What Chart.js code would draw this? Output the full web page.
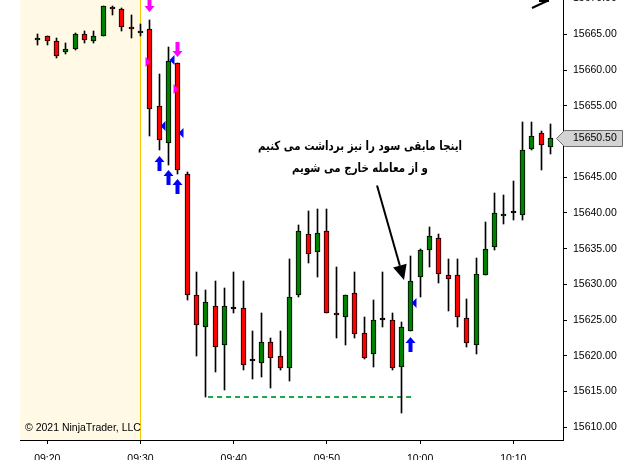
<!DOCTYPE html>
<html>
<head>
<meta charset="utf-8">
<script src="https://cdn.jsdelivr.net/npm/chart.js@4.4.1/dist/chart.umd.min.js"></script>
<style>
  html, body { margin: 0; padding: 0; background: #fff; }
  #wrap { width: 633px; height: 460px; }
</style>
</head>
<body>
<div id="wrap"><canvas id="chart" width="633" height="460"></canvas></div>
<script>
// ------------------------------
// 1-minute bars
// ------------------------------
const times = [
  "09:19", "09:20", "09:21", "09:22", "09:23", "09:24", "09:25", "09:26", "09:27", "09:28",
  "09:29", "09:30", "09:31", "09:32", "09:33", "09:34", "09:35", "09:36", "09:37", "09:38",
  "09:39", "09:40", "09:41", "09:42", "09:43", "09:44", "09:45", "09:46", "09:47", "09:48",
  "09:49", "09:50", "09:51", "09:52", "09:53", "09:54", "09:55", "09:56", "09:57", "09:58",
  "09:59", "10:00", "10:01", "10:02", "10:03", "10:04", "10:05", "10:06", "10:07", "10:08",
  "10:09", "10:10", "10:11", "10:12", "10:13", "10:14"
];
const opens = [
  15664.25, 15664.75, 15664.00, 15662.50, 15663.00, 15665.00, 15664.00, 15664.75, 15668.75, 15668.50,
  15666.00, 15665.25, 15665.75, 15655.00, 15649.75, 15661.00, 15645.50, 15628.50, 15624.00, 15627.00,
  15621.50, 15626.50, 15626.75, 15619.25, 15619.00, 15622.00, 15620.00, 15618.25, 15628.50, 15637.00,
  15634.50, 15637.50, 15626.00, 15625.50, 15628.75, 15623.25, 15620.25, 15625.00, 15625.00, 15618.50,
  15623.50, 15631.00, 15634.75, 15636.50, 15631.25, 15631.25, 15625.25, 15621.50, 15631.25, 15635.25,
  15639.50, 15640.00, 15639.75, 15649.00, 15651.25, 15649.25
];
const highs = [
  15665.00, 15664.75, 15664.50, 15663.75, 15665.25, 15665.50, 15665.50, 15669.00, 15669.00, 15668.75,
  15667.75, 15666.50, 15667.00, 15659.50, 15663.25, 15661.00, 15645.75, 15631.75, 15629.25, 15630.50,
  15629.50, 15631.75, 15630.50, 15623.50, 15626.00, 15622.50, 15623.50, 15633.50, 15638.25, 15640.25,
  15640.50, 15640.50, 15632.50, 15628.50, 15631.75, 15625.50, 15627.75, 15631.75, 15626.00, 15624.75,
  15634.00, 15635.00, 15638.00, 15637.00, 15633.50, 15633.50, 15628.00, 15633.75, 15638.75, 15642.75,
  15642.50, 15644.50, 15652.75, 15652.75, 15651.50, 15652.50
];
const lows = [
  15663.50, 15663.50, 15661.75, 15662.25, 15662.75, 15663.75, 15663.75, 15664.75, 15667.75, 15665.50,
  15664.50, 15664.75, 15650.75, 15648.75, 15646.75, 15645.50, 15627.75, 15620.00, 15614.25, 15617.75,
  15615.25, 15626.00, 15618.00, 15616.75, 15617.00, 15615.50, 15618.00, 15616.50, 15628.25, 15633.00,
  15631.00, 15626.00, 15622.50, 15621.50, 15622.50, 15619.50, 15618.50, 15624.00, 15618.00, 15612.00,
  15623.50, 15628.25, 15632.50, 15630.25, 15626.25, 15624.00, 15621.25, 15620.25, 15631.25, 15634.75,
  15638.50, 15639.00, 15639.00, 15648.75, 15646.00, 15648.25
];
const closes = [
  15664.50, 15664.00, 15662.00, 15663.00, 15665.00, 15664.25, 15664.75, 15669.00, 15668.50, 15666.00,
  15665.75, 15665.50, 15654.50, 15650.25, 15661.25, 15646.00, 15628.50, 15624.25, 15627.50, 15621.25,
  15627.00, 15626.50, 15618.75, 15619.25, 15622.00, 15619.75, 15618.25, 15628.25, 15637.50, 15634.25,
  15637.25, 15626.00, 15625.75, 15628.50, 15623.00, 15619.75, 15625.00, 15625.00, 15618.25, 15624.00,
  15630.50, 15634.75, 15636.75, 15631.50, 15630.75, 15625.50, 15621.75, 15631.50, 15635.00, 15640.00,
  15639.75, 15640.00, 15648.75, 15650.75, 15649.50, 15650.50
];

// axis ticks
const timeTicks = ["09:20", "09:30", "09:40", "09:50", "10:00", "10:10"];
const priceTicks = [15610, 15615, 15620, 15625, 15630, 15635, 15640, 15645, 15650, 15655, 15660, 15665, 15670];

// execution markers [time, price]
const sellArrows = [["09:31", 15668.1], ["09:34", 15661.8]];          // magenta down arrows (tip)
const sellFills = [["09:31", 15661.1], ["09:34", 15657.4]];           // magenta right triangles
const buyFills = [["09:32", 15652.1], ["09:33", 15661.4], ["09:34", 15651.2], ["09:59", 15627.4]];
const buyArrows = [["09:32", 15647.9], ["09:33", 15646.0], ["09:34", 15644.7], ["09:59", 15622.7]]; // blue up arrows (tip)

// drawings
const sessionStart = "09:30";
const stopLine = { from: 37.25, to: 59.15, price: 15614.25 };
const noteLines = ["اینجا مابقی سود را نیز برداشت می کنیم", "و از معامله خارج می شویم"];
const notePos = { x: 53.55, prices: [15649.2, 15646.25] };
const noteArrow = { x1: 55.38, y1: 15643.85, x2: 58.27, y2: 15630.6 };
const copyright = "© 2021 NinjaTrader, LLC";

// ------------------------------
// helpers
// ------------------------------
const toMin = t => { const [h, m] = t.split(":").map(Number); return (h - 9) * 60 + m; };
const fmtTime = v => {
  const h = 9 + Math.floor(v / 60), m = Math.round(v % 60);
  return String(h).padStart(2, "0") + ":" + String(m).padStart(2, "0");
};
const UP = "#008000", DOWN = "#FF0000";
const AXIS_FONT = { family: "'Liberation Sans', Arial, sans-serif", size: 10.5 };

const bodyColors = times.map((t, i) => closes[i] > opens[i] ? UP : closes[i] < opens[i] ? DOWN : "#000");

function upArrow(ctx, x, y, color) {
  ctx.fillStyle = color;
  ctx.beginPath();
  ctx.moveTo(x, y); ctx.lineTo(x + 5, y + 6); ctx.lineTo(x + 2, y + 6); ctx.lineTo(x + 2, y + 15);
  ctx.lineTo(x - 2, y + 15); ctx.lineTo(x - 2, y + 6); ctx.lineTo(x - 5, y + 6);
  ctx.closePath(); ctx.fill();
}
function downArrow(ctx, x, y, color) {
  ctx.fillStyle = color;
  ctx.beginPath();
  ctx.moveTo(x, y); ctx.lineTo(x + 5, y - 6); ctx.lineTo(x + 2, y - 6); ctx.lineTo(x + 2, y - 15);
  ctx.lineTo(x - 2, y - 15); ctx.lineTo(x - 2, y - 6); ctx.lineTo(x - 5, y - 6);
  ctx.closePath(); ctx.fill();
}
function sideTriangle(ctx, x, y, dir, color) {
  // dir = 1 points right, -1 points left; tip at x
  ctx.fillStyle = color;
  ctx.beginPath();
  ctx.moveTo(x, y); ctx.lineTo(x - dir * 5, y - 5); ctx.lineTo(x - dir * 5, y + 5);
  ctx.closePath(); ctx.fill();
}
const colX = (chart, t) => Math.floor(chart.scales.x.getPixelForValue(typeof t === "string" ? toMin(t) : t)) + 0.5;

// ------------------------------
// Decorations plugin (session shading, drawings, price marker)
// ------------------------------
const decor = {
  id: "decor",
  afterDatasetsUpdate(chart) {
    // snap candles to whole pixels
    chart.data.datasets.forEach((ds, i) => {
      chart.getDatasetMeta(i).data.forEach(el => {
        el.x = Math.floor(el.x) + 0.5;
        el.y = Math.round(el.y);
        el.base = Math.round(el.base);
      });
    });
  },
  beforeDraw(chart) {
    const { ctx, chartArea: a, scales: { x } } = chart;
    ctx.save();
    ctx.fillStyle = "#fff";
    ctx.fillRect(0, 0, chart.width, chart.height);
    const sx = x.getPixelForValue(toMin(sessionStart));
    ctx.fillStyle = "#FFF9E6";
    ctx.fillRect(a.left, a.top, sx - a.left, a.bottom - a.top);
    ctx.strokeStyle = "#F5C800";
    ctx.lineWidth = 1;
    ctx.beginPath();
    ctx.moveTo(Math.floor(sx) + 0.5, a.top);
    ctx.lineTo(Math.floor(sx) + 0.5, a.bottom);
    ctx.stroke();
    ctx.restore();
  },
  beforeDatasetsDraw(chart) {
    const { ctx, scales: { x, y } } = chart;
    ctx.save();
    ctx.strokeStyle = "#1FA64A";
    ctx.lineWidth = 2;
    ctx.setLineDash([5, 4]);
    const py = Math.round(y.getPixelForValue(stopLine.price));
    ctx.beginPath();
    ctx.moveTo(x.getPixelForValue(stopLine.from), py);
    ctx.lineTo(x.getPixelForValue(stopLine.to), py);
    ctx.stroke();
    ctx.restore();
  },
  afterDatasetsDraw(chart) {
    const { ctx, scales: { x, y } } = chart;
    ctx.save();
    sellArrows.forEach(([t, p]) => downArrow(ctx, colX(chart, t), Math.round(y.getPixelForValue(p)), "#FF00FF"));
    sellFills.forEach(([t, p]) => sideTriangle(ctx, colX(chart, t) + 1, Math.round(y.getPixelForValue(p)), 1, "#FF00FF"));
    buyFills.forEach(([t, p]) => sideTriangle(ctx, colX(chart, t) + 1, Math.round(y.getPixelForValue(p)), -1, "#0000FF"));
    buyArrows.forEach(([t, p]) => upArrow(ctx, colX(chart, t), Math.round(y.getPixelForValue(p)), "#0000FF"));

    // note text (DejaVu runs wide, squeeze it a little)
    ctx.fillStyle = "#000";
    ctx.font = "bold 12.5px 'DejaVu Sans', sans-serif";
    ctx.textAlign = "center";
    ctx.textBaseline = "middle";
    ctx.direction = "rtl";
    noteLines.forEach((line, i) => {
      ctx.save();
      ctx.translate(x.getPixelForValue(notePos.x), y.getPixelForValue(notePos.prices[i]));
      ctx.scale(0.82, 1);
      ctx.fillText(line, 0, 0);
      ctx.restore();
    });
    ctx.direction = "ltr";

    // note arrow
    const ax1 = x.getPixelForValue(noteArrow.x1), ay1 = y.getPixelForValue(noteArrow.y1);
    const ax2 = x.getPixelForValue(noteArrow.x2), ay2 = y.getPixelForValue(noteArrow.y2);
    const ang = Math.atan2(ay2 - ay1, ax2 - ax1);
    const head = 15, half = 7;
    const bx = ax2 - head * Math.cos(ang), by = ay2 - head * Math.sin(ang);
    ctx.strokeStyle = "#000";
    ctx.lineWidth = 2;
    ctx.beginPath();
    ctx.moveTo(ax1, ay1);
    ctx.lineTo(bx, by);
    ctx.stroke();
    ctx.beginPath();
    ctx.moveTo(ax2, ay2);
    ctx.lineTo(bx + half * Math.sin(ang), by - half * Math.cos(ang));
    ctx.lineTo(bx - half * Math.sin(ang), by + half * Math.cos(ang));
    ctx.closePath();
    ctx.fillStyle = "#000";
    ctx.fill();

    // small arrow cut by the top edge
    ctx.beginPath();
    ctx.moveTo(532, 8); ctx.lineTo(547, 1);
    ctx.moveTo(539, 1); ctx.lineTo(549, 1);
    ctx.stroke();

    // copyright
    ctx.font = "10.5px 'Liberation Sans', Arial, sans-serif";
    ctx.textAlign = "left";
    ctx.textBaseline = "alphabetic";
    ctx.fillStyle = "#000";
    ctx.fillText(copyright, 25, 431);
    ctx.restore();
  },
  afterDraw(chart) {
    // last price marker on the price axis
    const { ctx, scales: { y } } = chart;
    const last = closes[closes.length - 1];
    const py = Math.round(y.getPixelForValue(last)) + 0.5;
    ctx.save();
    ctx.beginPath();
    ctx.moveTo(556.5, py);
    ctx.lineTo(564.5, py - 8);
    ctx.lineTo(622.5, py - 8);
    ctx.lineTo(622.5, py + 8);
    ctx.lineTo(564.5, py + 8);
    ctx.closePath();
    ctx.fillStyle = "#D3D3D3";
    ctx.fill();
    ctx.strokeStyle = "#6E6E6E";
    ctx.lineWidth = 1;
    ctx.stroke();
    ctx.fillStyle = "#000";
    ctx.font = "10.5px 'Liberation Sans', Arial, sans-serif";
    ctx.textAlign = "left";
    ctx.textBaseline = "middle";
    ctx.fillText(last.toFixed(2), 573, py);
    ctx.restore();
  }
};

// ------------------------------
// Chart
// ------------------------------
new Chart(document.getElementById("chart"), {
  type: "bar",
  data: {
    datasets: [
      {
        label: "wick",
        data: times.map((t, i) => ({ x: toMin(t), y: [lows[i], highs[i]] })),
        backgroundColor: "#000",
        barThickness: 1,
        grouped: false,
        order: 2
      },
      {
        label: "body",
        data: times.map((t, i) => ({ x: toMin(t), y: [opens[i], closes[i]] })),
        backgroundColor: bodyColors,
        borderColor: "#000",
        borderWidth: 1,
        borderSkipped: false,
        barThickness: 5,
        minBarLength: 2,
        grouped: false,
        order: 1
      }
    ]
  },
  options: {
    responsive: false,
    animation: false,
    events: [],
    layout: { padding: { left: 20, top: 0, right: 0, bottom: 0 }, autoPadding: false },
    plugins: { legend: { display: false }, tooltip: { enabled: false } },
    scales: {
      x: {
        type: "linear",
        position: "bottom",
        min: 17.0708,
        max: 75.3326,
        offset: false,
        grid: { display: true, drawOnChartArea: false, drawTicks: true, tickLength: 4, color: "#000", offset: false },
        border: { display: true, color: "#000", width: 1 },
        ticks: { font: AXIS_FONT, color: "#000", padding: 9, maxRotation: 0, autoSkip: false, callback: v => fmtTime(v) },
        afterBuildTicks: axis => { axis.ticks = timeTicks.map(t => ({ value: toMin(t) })); },
        afterFit: axis => { axis.height = 20; axis.paddingLeft = 0; axis.paddingRight = 0; }
      },
      y: {
        type: "linear",
        position: "right",
        min: 15608.22,
        max: 15669.80,
        grid: { display: true, drawOnChartArea: false, drawTicks: true, tickLength: 4, color: "#000" },
        border: { display: true, color: "#000", width: 1 },
        ticks: { font: AXIS_FONT, color: "#000", padding: 6, autoSkip: false, callback: v => v.toFixed(2) },
        afterBuildTicks: axis => { axis.ticks = priceTicks.map(v => ({ value: v })); },
        afterFit: axis => { axis.width = 70; axis.paddingTop = 0; axis.paddingBottom = 0; }
      }
    }
  },
  plugins: [decor]
});
</script>
</body>
</html>
